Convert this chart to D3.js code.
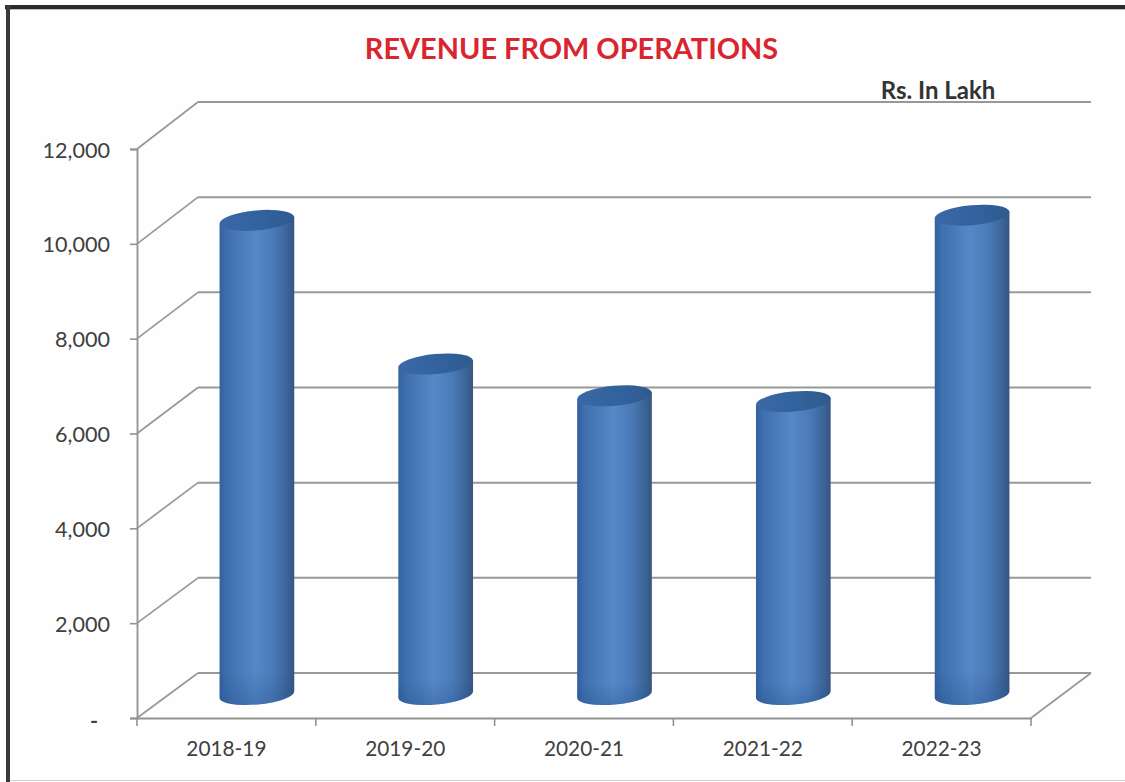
<!DOCTYPE html>
<html>
<head>
<meta charset="utf-8">
<script src="https://cdn.jsdelivr.net/npm/d3@7"></script>
<style>
  html, body { margin: 0; padding: 0; background: #fff; overflow: hidden; }
  svg { display: block; font-family: Lato, "Open Sans", sans-serif; }
</style>
</head>
<body>
<svg id="chart" width="1125" height="782"></svg>
<script>
const categories = ["2018-19", "2019-20", "2020-21", "2021-22", "2022-23"];
const revenue = [10020, 6990, 6320, 6200, 10130];
const yTicks = [0, 2000, 4000, 6000, 8000, 10000, 12000];
const chartTitle = "REVENUE FROM OPERATIONS";
const unitNote = "Rs. In Lakh";

const svg = d3.select("#chart");

// Plot box: front plane plus the receding depth of the 3-D walls
const front = { left: 137, right: 1031, bottom: 718, top: 149 };
const depth = { x: 61, y: -45 };

const x = d3.scaleBand().domain(categories).range([front.left, front.right]);
const yFront = d3.scaleLinear().domain([0, 12000]).range([front.bottom, front.top]);
const yBack = d3.scaleLinear().domain([0, 12000]).range([front.bottom + depth.y, front.top + depth.y - 2]);
// Cylinders stand halfway into the depth of the floor
const yMid = d3.scaleLinear().domain([0, 12000]).range([front.bottom + depth.y / 2, front.top + depth.y / 2]);

const defs = svg.append("defs");
const bodyGrad = defs.append("linearGradient").attr("id", "cylBody");
[[0, "#33619f"], [0.1, "#3f6fae"], [0.48, "#5687c6"], [0.72, "#4b7ab8"], [0.92, "#3a6296"], [1, "#38557f"]]
  .forEach(([o, c]) => bodyGrad.append("stop").attr("offset", o).attr("stop-color", c));
const capGrad = defs.append("linearGradient").attr("id", "cylCap");
[[0, "#3a68a6"], [0.5, "#33639f"], [1, "#2f5a8e"]]
  .forEach(([o, c]) => capGrad.append("stop").attr("offset", o).attr("stop-color", c));
const footGrad = defs.append("linearGradient")
  .attr("id", "cylFoot").attr("x1", 0).attr("x2", 0).attr("y1", 0).attr("y2", 1);
footGrad.append("stop").attr("offset", 0.93).attr("stop-color", "#1f4a85").attr("stop-opacity", 0);
footGrad.append("stop").attr("offset", 1).attr("stop-color", "#1f4a85").attr("stop-opacity", 0.3);

// Page frame
svg.append("rect").attr("width", 1125).attr("height", 782).attr("fill", "#fefefe");
svg.append("rect").attr("x", 5).attr("y", 5).attr("width", 1120).attr("height", 4).attr("fill", "#2b2b2b");
svg.append("rect").attr("x", 5).attr("y", 9).attr("width", 1120).attr("height", 1).attr("fill", "#bdbdbd");
svg.append("rect").attr("x", 6).attr("y", 5).attr("width", 4).attr("height", 777).attr("fill", "#3a3a3a");
svg.append("rect").attr("x", 10).attr("y", 780).attr("width", 1115).attr("height", 1).attr("fill", "#cfcfcf");

const gridColor = "#989898";
const backX = [front.left + depth.x, front.right + depth.x - 1];

// Back wall gridlines
svg.append("g").selectAll("line").data(yTicks).join("line")
  .attr("x1", backX[0]).attr("x2", backX[1])
  .attr("y1", d => yBack(d)).attr("y2", d => yBack(d))
  .attr("stroke", gridColor).attr("stroke-width", 2);

// Side wall gridlines running from the front plane to the back wall
svg.append("g").selectAll("line").data(yTicks).join("line")
  .attr("x1", front.left).attr("x2", backX[0])
  .attr("y1", d => yFront(d)).attr("y2", d => yBack(d))
  .attr("stroke", gridColor).attr("stroke-width", 1.7);

// Right-hand edge of the floor
svg.append("line")
  .attr("x1", front.right).attr("y1", yFront(0))
  .attr("x2", backX[1]).attr("y2", yBack(0))
  .attr("stroke", gridColor).attr("stroke-width", 1.7);

// Value axis
const yAxis = svg.append("g")
  .attr("transform", `translate(${front.left},0)`)
  .call(d3.axisLeft(yFront).tickValues(yTicks).tickSize(7).tickPadding(20)
    .tickFormat(d => d === 0 ? "-" : d3.format(",")(d)));
yAxis.select(".domain").attr("stroke", "#929292").attr("stroke-width", 1.8);
yAxis.selectAll(".tick line").attr("stroke", "#929292").attr("stroke-width", 1.6);
yAxis.selectAll(".tick text")
  .attr("font-size", 21.6).attr("fill", "#404040").attr("font-family", "Lato, sans-serif")
  .attr("dy", "0.37em");
yAxis.selectAll(".tick").filter(d => d === 0).select("text")
  .attr("x", -39).attr("dy", "0.42em").attr("font-weight", 700);

// Category axis with ticks on the band boundaries
const xAxis = svg.append("g")
  .attr("transform", `translate(0,${front.bottom})`)
  .call(d3.axisBottom(x).tickSize(0).tickPadding(23));
xAxis.select(".domain").attr("stroke", "#929292").attr("stroke-width", 1.8);
xAxis.selectAll(".tick text")
  .attr("font-size", 20.8).attr("fill", "#404040").attr("font-family", "Lato, sans-serif");
xAxis.append("g").selectAll("line")
  .data(categories.map(c => x(c)).concat(x(categories[categories.length - 1]) + x.bandwidth()))
  .join("line")
  .attr("x1", d => d).attr("x2", d => d).attr("y1", 0).attr("y2", 8)
  .attr("stroke", "#929292").attr("stroke-width", 1.6);

// Cylinders, slightly tilted as the chart's 3-D rotation shows them
const rx = 37.5, ry = 10, tilt = -5.2;
const sin = Math.sin(-tilt * Math.PI / 180), cos = Math.cos(-tilt * Math.PI / 180);
const cx = c => x(c) + x.bandwidth() / 2 + depth.x / 2;

function bodyPath(c, v) {
  const xl = cx(c) - rx * cos, xr = cx(c) + rx * cos;
  const t = yMid(v), b = yMid(0) - 1;
  return `M${xl},${t + rx * sin} L${xr},${t - rx * sin} L${xr},${b - rx * sin}` +
    ` A${rx},${ry} ${tilt} 0 1 ${xl},${b + rx * sin} Z`;
}

const bars = svg.append("g").selectAll("g")
  .data(categories.map((c, i) => ({ c, v: revenue[i] })))
  .join("g");
bars.append("path").attr("d", d => bodyPath(d.c, d.v)).attr("fill", "url(#cylBody)");
bars.append("path").attr("d", d => bodyPath(d.c, d.v)).attr("fill", "url(#cylFoot)");
bars.append("ellipse")
  .attr("rx", rx).attr("ry", ry)
  .attr("transform", d => `translate(${cx(d.c)},${yMid(d.v)}) rotate(${tilt})`)
  .attr("fill", "url(#cylCap)");

// Headings
svg.append("text").attr("x", 571.5).attr("y", 59)
  .attr("text-anchor", "middle").attr("font-size", 28.9).attr("font-weight", 700)
  .attr("fill", "#d9252e").text(chartTitle);
svg.append("text").attr("x", 938).attr("y", 99)
  .attr("text-anchor", "middle").attr("font-size", 24).attr("font-weight", 700)
  .attr("fill", "#333").text(unitNote);
</script>
</body>
</html>
